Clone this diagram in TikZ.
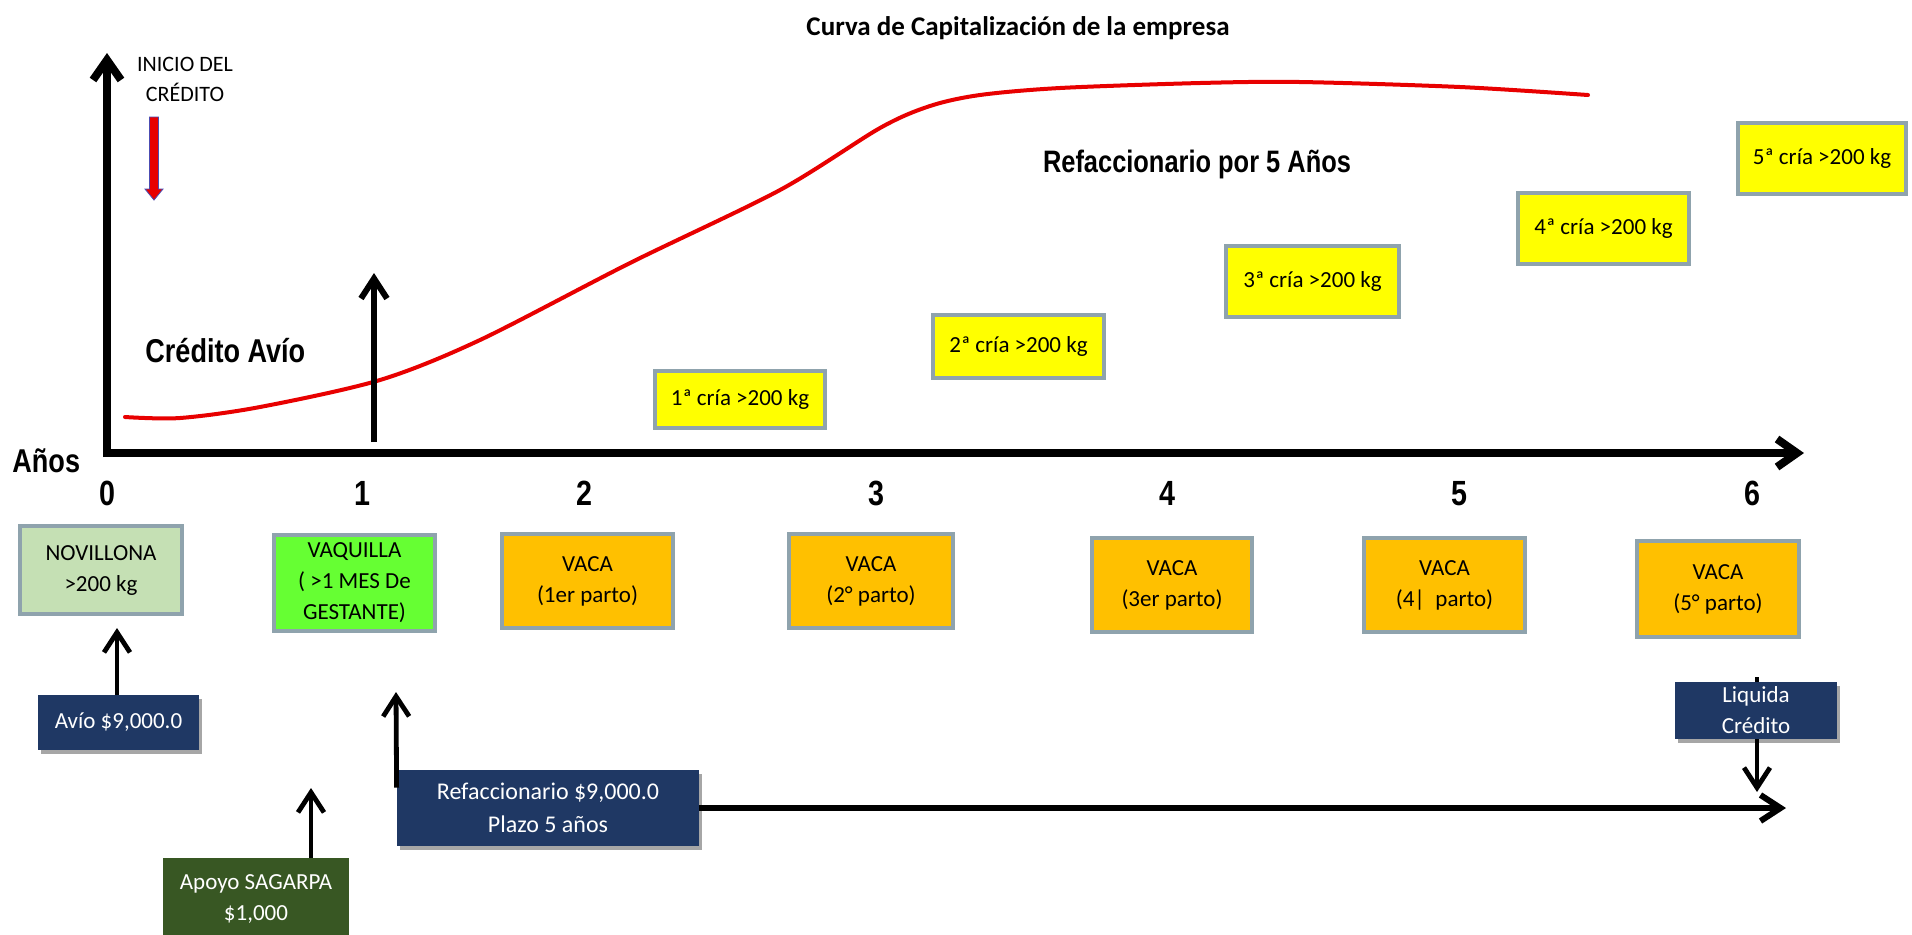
\documentclass[tikz,border=0pt]{standalone}
\usepackage{fontspec}
\setmainfont{Carlito}
\newfontfamily\narrowb[FakeStretch=0.82]{Liberation Sans}
\usetikzlibrary{arrows.meta,calc,shadows}
\definecolor{boxline}{RGB}{143,163,173}
\definecolor{cyellow}{RGB}{255,255,0}
\definecolor{corange}{RGB}{255,192,0}
\definecolor{clight}{RGB}{197,224,180}
\definecolor{cgreen}{RGB}{102,255,51}
\definecolor{cnavy}{RGB}{31,56,100}
\definecolor{colive}{RGB}{56,87,35}
\definecolor{cred}{RGB}{232,0,0}
\begin{document}
\begin{tikzpicture}[x=0.5pt,y=-0.5pt,
  boxtxt/.style={inner sep=0pt,align=center,font=\fontsize{11.5}{15.5}\selectfont},
  gbox/.style={boxtxt,draw=boxline,line width=2pt},
  yel/.style={gbox,fill=cyellow},
  ora/.style={gbox,fill=corange},
  navy/.style={boxtxt,fill=cnavy,text=white,drop shadow={shadow xshift=1.5pt,shadow yshift=-2pt,opacity=0.35,fill=black}},
  olive/.style={boxtxt,fill=colive,text=white},
  bignum/.style={font=\narrowb\bfseries\fontsize{17.5}{20}\selectfont,inner sep=0pt,anchor=base},
  axisline/.style={line width=4pt,-{Straight Barb[length=10pt,width=14pt]}},
  thinarrow/.style={line width=2.4pt,-{Straight Barb[length=10pt,width=13pt]}},
  midarrow/.style={line width=3pt,-{Straight Barb[length=10pt,width=13pt]}}
]
\useasboundingbox (0,0) rectangle (1912,934);
\fill[white] (0,0) rectangle (1912,934);

% title and labels
\node[font=\bfseries\fontsize{13.5}{16}\selectfont,inner sep=0pt,anchor=base] (title) at (1018,35) {Curva de Capitalización de la empresa};
\node[font=\fontsize{11}{15}\selectfont,align=center,inner sep=0pt] (inicio) at (185,79) {INICIO DEL\\CRÉDITO};
\node[font=\narrowb\bfseries\fontsize{16.5}{19}\selectfont,inner sep=0pt,anchor=base west] (credavio) at (145,362) {Crédito Avío};
\node[font=\narrowb\bfseries\fontsize{16.5}{19}\selectfont,inner sep=0pt,anchor=base west] (anos) at (12,472) {Años};
\node[font=\narrowb\bfseries\fontsize{15.5}{19}\selectfont,inner sep=0pt,anchor=base] (refac5) at (1197,172) {Refaccionario por 5 Años};

% red curve
\draw[cred,line width=2pt,line cap=round] plot[smooth,tension=0.5] coordinates {(125,417) (180,418) (260,407) (380,380) (480,340) (630,263) (780,190) (880,128) (930,106) (980,95) (1060,88) (1200,83) (1300,82) (1460,87) (1588,95)};

% axes
\coordinate (origin) at (107,457);
\coordinate (ytop) at (107,53);
\coordinate (xstart) at (103,453);
\coordinate (xend) at (1804,453);
\draw[axisline] (origin) -- (ytop);
\draw[axisline] (xstart) -- (xend);

% year numbers
\node[bignum] (y0) at (107,505) {0};
\node[bignum] (y1) at (362,505) {1};
\node[bignum] (y2) at (584,505) {2};
\node[bignum] (y3) at (876,505) {3};
\node[bignum] (y4) at (1167,505) {4};
\node[bignum] (y5) at (1459,505) {5};
\node[bignum] (y6) at (1752,505) {6};

% red arrow (inicio del credito)
\filldraw[fill=cred,draw=blue!40!gray,line width=0.4pt] (149.5,117) -- (158.5,117) -- (158.5,189) -- (163,189) -- (154,200) -- (145,189) -- (149.5,189) -- cycle;

% year-1 arrow
\coordinate (a1b) at (374,442);
\coordinate (a1t) at (374,273);
\draw[midarrow] (a1b) -- (a1t);

% cria boxes
\node[yel,minimum width=85pt,minimum height=28.5pt] (c1) at (740,399.5) {1ª cría >200 kg};
\node[yel,minimum width=85.5pt,minimum height=31.5pt] (c2) at (1018.5,346.5) {2ª cría >200 kg};
\node[yel,minimum width=86.5pt,minimum height=35.5pt] (c3) at (1312.5,281.5) {3ª cría >200 kg};
\node[yel,minimum width=85.5pt,minimum height=35.5pt] (c4) at (1603.5,228.5) {4ª cría >200 kg};
\node[yel,minimum width=84pt,minimum height=35.5pt] (c5) at (1822,158.5) {5ª cría >200 kg};

% animal boxes
\node[gbox,fill=clight,minimum width=81pt,minimum height=44pt] (novi) at (101,570) {NOVILLONA\\>200 kg};
\node[gbox,fill=cgreen,minimum width=80.5pt,minimum height=48pt] (vaq) at (354.5,583) {VAQUILLA\\( >1 MES De\\GESTANTE)};
\node[ora,minimum width=85.5pt,minimum height=47pt] (v1) at (587.5,581) {VACA\\(1er parto)};
\node[ora,minimum width=82pt,minimum height=47pt] (v2) at (871,581) {VACA\\(2° parto)};
\node[ora,minimum width=80pt,minimum height=47pt] (v3) at (1172,585) {VACA\\(3er parto)};
\node[ora,minimum width=80.5pt,minimum height=47pt] (v4) at (1444.5,585) {VACA\\(4|\ \ parto)};
\node[ora,minimum width=81pt,minimum height=48pt] (v5) at (1718,589) {VACA\\(5° parto)};

% credit boxes
\node[navy,minimum width=80.5pt,minimum height=27.5pt] (avio) at (118.5,722.5) {Avío \$9,000.0};
\node[navy,font=\fontsize{12}{16.5}\selectfont,minimum width=151pt,minimum height=38pt] (refac) at (548,808) {Refaccionario \$9,000.0\\Plazo 5 años};
\node[olive,minimum width=93pt,minimum height=41pt] (apoyo) at (256,899) {Apoyo SAGARPA\\\$1,000};
\node[navy,minimum width=81pt,minimum height=28.5pt] (liq) at (1756,710.5) {Liquida\\Crédito};

% connectors
\draw[thinarrow,shorten >=6pt] (avio.north -| 117,0) -- (novi.south -| 117,0);
\coordinate (apoyoTip) at (311,788);
\draw[thinarrow] (apoyoTip |- apoyo.north) -- (apoyoTip);
\coordinate (refacTip) at (396,692);
\draw[thinarrow] ($(refac.north west)+(0,18)$) -- (refacTip);
\coordinate (refacEnd) at (1786,808);
\draw[midarrow] (refac.east) -- (refacEnd);
\coordinate (liqTop) at (1757,677);
\coordinate (liqTip) at (1757,792);
\draw[line width=2.4pt] (liqTop) -- (liqTop |- liq.north);
\draw[thinarrow] (liqTip |- liq.south) -- (liqTip);
\end{tikzpicture}
\end{document}
